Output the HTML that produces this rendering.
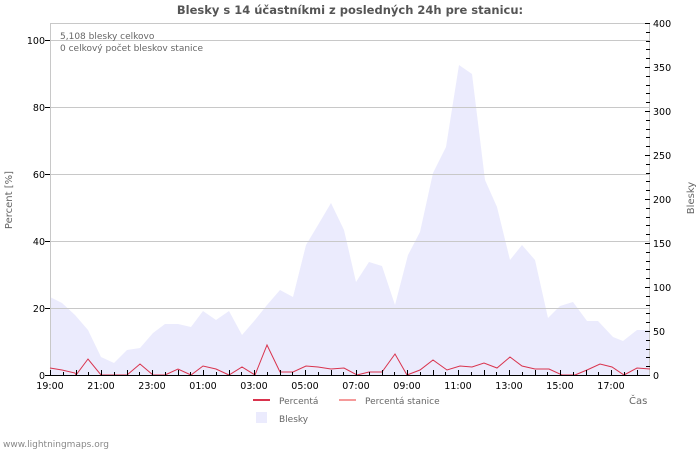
<!DOCTYPE html>
<html><head><meta charset="utf-8"><style>
body{margin:0;background:#fff;width:700px;height:450px;overflow:hidden}
text{font-family:"DejaVu Sans","Liberation Sans",sans-serif}
</style></head><body>
<svg width="700" height="450" xmlns="http://www.w3.org/2000/svg">
<rect width="700" height="450" fill="#fff"/>
<text x="350" y="14" text-anchor="middle" font-size="11.5" font-weight="bold" fill="#555">Blesky s 14 účastníkmi z posledných 24h pre stanicu:</text>
<polygon fill="#ebebfd" points="50,375 50,297 62,303 75,315 88,330 101,357 114,363 127,350 140,348 153,333 165,324 178,324 191,327 203,311 216,320 229,311 242,335 255,320 267,305 280,290 293,297 306,245 318,225 331,203 344,230 356,282 369,262 382,266 395,305 408,255 420,232 433,173 446,147 459,65 472,74 485,180 497,207 510,260 522,245 535,260 548,318 560,306 573,302 587,321 598,321 613,337 623,341 637,330 650,330 650,375"/>
<g stroke="#c8c8c8" stroke-width="1">
<line x1="50" y1="308.5" x2="650" y2="308.5"/>
<line x1="50" y1="241.5" x2="650" y2="241.5"/>
<line x1="50" y1="174.5" x2="650" y2="174.5"/>
<line x1="50" y1="107.5" x2="650" y2="107.5"/>
<line x1="50" y1="40.5" x2="650" y2="40.5"/>
<line x1="50" y1="23.5" x2="650" y2="23.5"/>
<line x1="50.5" y1="23" x2="50.5" y2="375"/>
<line x1="649.5" y1="23" x2="649.5" y2="375"/>
</g>
<polyline fill="none" stroke="#d9334d" stroke-width="1" points="50,368 62,370 75,373 76,375 88,359 101,375 114,375 127,375 140,364 153,375 165,375 178,369 191,375 203,366 216,369 229,375 242,367 255,375 267,345 280,372 293,372 306,366 318,367 331,369 344,368 357,375 369,372 382,372 395,354 407,375 420,370 433,360 447,370 460,366 472,367 484,363 497,368 510,357 522,366 535,369 549,369 562,375 575,375 587,370 600,364 612,367 624,375 637,368 650,369"/>
<line x1="50" y1="375.5" x2="650" y2="375.5" stroke="#000"/>
<path stroke="#000" stroke-width="1" fill="none" d="M50.5 370V375M63.5 372V375M76.5 370V375M88.5 372V375M101.5 370V375M114.5 372V375M127.5 370V375M139.5 372V375M152.5 370V375M165.5 372V375M178.5 370V375M190.5 372V375M203.5 370V375M216.5 372V375M229.5 370V375M241.5 372V375M254.5 370V375M267.5 372V375M280.5 370V375M292.5 372V375M305.5 370V375M318.5 372V375M331.5 370V375M343.5 372V375M356.5 370V375M369.5 372V375M382.5 370V375M394.5 372V375M407.5 370V375M420.5 372V375M433.5 370V375M445.5 372V375M458.5 370V375M471.5 372V375M484.5 370V375M496.5 372V375M509.5 370V375M522.5 372V375M535.5 370V375M547.5 372V375M560.5 370V375M573.5 372V375M586.5 370V375M598.5 372V375M611.5 370V375M624.5 372V375M637.5 370V375"/>
<path stroke="#000" stroke-width="1" fill="none" d="M645 375.5H650M646 366.5H650M646 357.5H650M646 349.5H650M646 340.5H650M645 331.5H650M646 322.5H650M646 313.5H650M646 305.5H650M646 296.5H650M645 287.5H650M646 278.5H650M646 269.5H650M646 261.5H650M646 252.5H650M645 243.5H650M646 234.5H650M646 225.5H650M646 217.5H650M646 208.5H650M645 199.5H650M646 190.5H650M646 181.5H650M646 173.5H650M646 164.5H650M645 155.5H650M646 146.5H650M646 137.5H650M646 129.5H650M646 120.5H650M645 111.5H650M646 102.5H650M646 93.5H650M646 85.5H650M646 76.5H650M645 67.5H650M646 58.5H650M646 49.5H650M646 41.5H650M646 32.5H650M645 23.5H650"/>
<g font-size="9.5" fill="#000" text-anchor="end">
<text x="45" y="379">0</text><text x="45" y="312">20</text><text x="45" y="245">40</text><text x="45" y="178">60</text><text x="45" y="111">80</text><text x="45" y="44">100</text>
</g>
<g stroke="#000"><line x1="45" y1="375.5" x2="50" y2="375.5"/><line x1="45" y1="308.5" x2="50" y2="308.5"/><line x1="45" y1="241.5" x2="50" y2="241.5"/><line x1="45" y1="174.5" x2="50" y2="174.5"/><line x1="45" y1="107.5" x2="50" y2="107.5"/><line x1="45" y1="40.5" x2="50" y2="40.5"/></g>
<g font-size="9.5" fill="#000">
<text x="653" y="379">0</text><text x="653" y="335">50</text><text x="653" y="291">100</text><text x="653" y="247">150</text><text x="653" y="203">200</text><text x="653" y="159">250</text><text x="653" y="115">300</text><text x="653" y="71">350</text><text x="653" y="27">400</text>
</g>
<g font-size="9.5" fill="#000" text-anchor="middle">
<text x="50" y="389">19:00</text><text x="101" y="389">21:00</text><text x="152" y="389">23:00</text><text x="203" y="389">01:00</text><text x="254" y="389">03:00</text><text x="305" y="389">05:00</text><text x="356" y="389">07:00</text><text x="407" y="389">09:00</text><text x="458" y="389">11:00</text><text x="509" y="389">13:00</text><text x="560" y="389">15:00</text><text x="611" y="389">17:00</text>
</g>
<text x="12" y="200" font-size="10" fill="#666" text-anchor="middle" transform="rotate(-90 12 200)">Percent   [%]</text>
<text x="694" y="198" font-size="10" fill="#666" text-anchor="middle" transform="rotate(-90 694 198)">Blesky</text>
<text x="629" y="404" font-size="10" fill="#666">Čas</text>
<text x="60" y="39" font-size="9" fill="#666">5,108 blesky celkovo</text>
<text x="60" y="51" font-size="9" fill="#666">0 celkový počet bleskov stanice</text>
<line x1="253" y1="400" x2="270" y2="400" stroke="#d9334d" stroke-width="2"/>
<text x="279" y="404" font-size="9" fill="#666">Percentá</text>
<line x1="339" y1="400" x2="356" y2="400" stroke="#f59a9a" stroke-width="2"/>
<text x="365" y="404" font-size="9" fill="#666">Percentá stanice</text>
<rect x="256" y="412" width="11" height="11" fill="#ebebfd"/>
<text x="279" y="422" font-size="9" fill="#666">Blesky</text>
<text x="3" y="447" font-size="9" fill="#888">www.lightningmaps.org</text>
</svg>
</body></html>
